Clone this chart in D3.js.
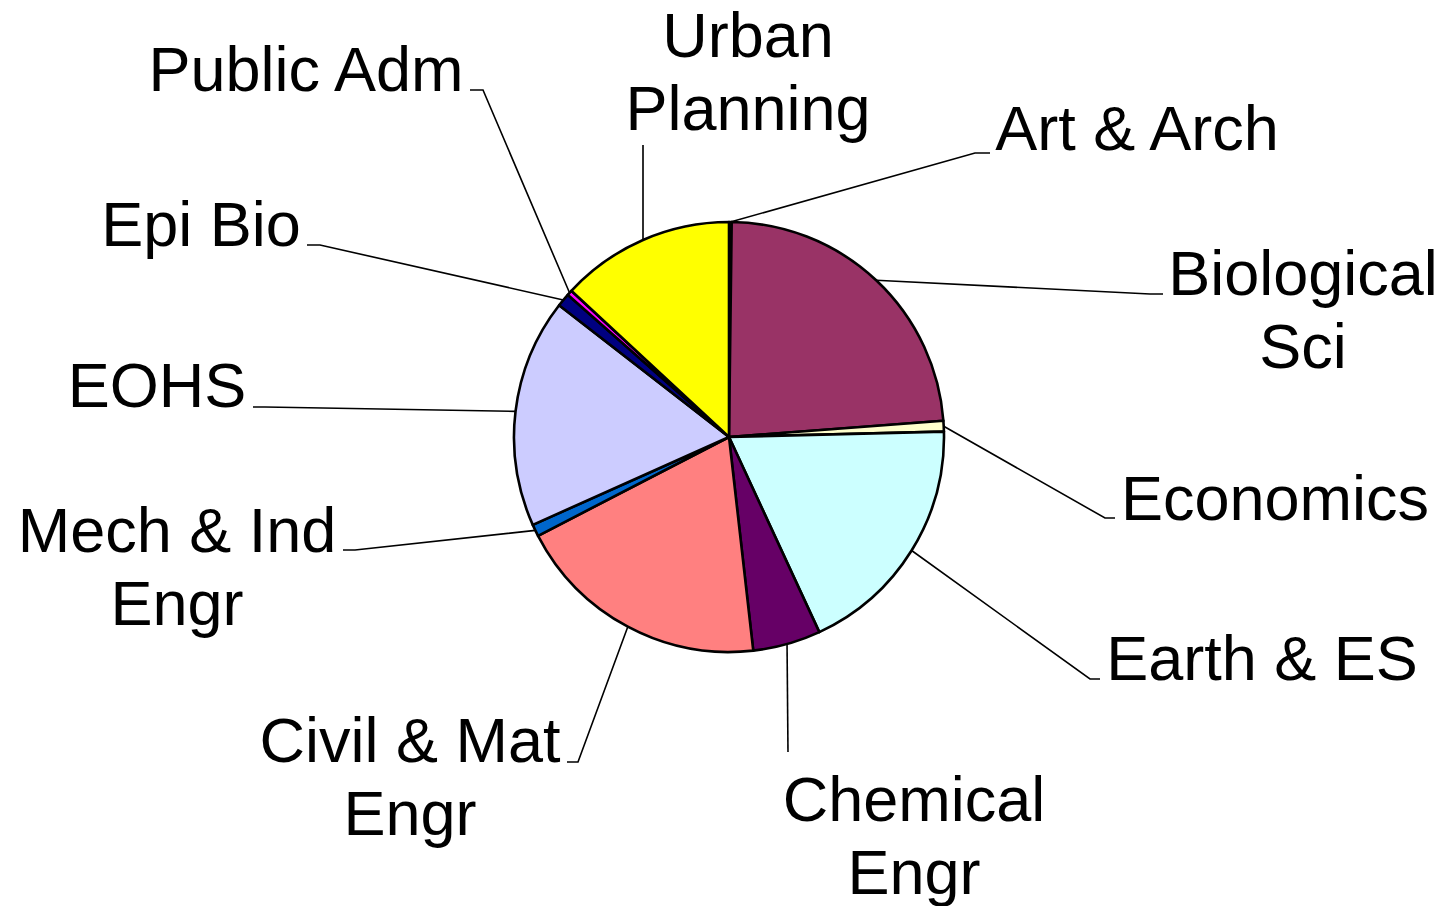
<!DOCTYPE html>
<html>
<head>
<meta charset="utf-8">
<script src="https://cdn.jsdelivr.net/npm/d3@7"></script>
<style>
  body { margin: 0; background: #fff; }
  svg { display: block; }
</style>
</head>
<body>
<svg></svg>
<script>
let width = 1449;
let height = 906;

// slices, clockwise from 12 o'clock (percent of total)
const departments = ["Art & Arch", "Biological Sci", "Economics", "Earth & ES", "Chemical Engr",
  "Civil & Mat Engr", "Mech & Ind Engr", "EOHS", "Epi Bio", "Public Adm", "Urban Planning"];
const shares = [0.2, 23.6, 0.8, 18.5, 5.1, 19.2, 0.9, 17.2, 1.0, 0.4, 13.1];
const sliceColors = ["#FFCC99", "#993366", "#FFFFCC", "#CCFFFF", "#660066",
  "#FF8080", "#0066CC", "#CCCCFF", "#000080", "#FF00FF", "#FFFF00"];
// label text, broken in lines as in the original
const labelLines = [["Art & Arch"], ["Biological", "Sci"], ["Economics"], ["Earth & ES"], ["Chemical", "Engr"],
  ["Civil & Mat", "Engr"], ["Mech & Ind", "Engr"], ["EOHS"], ["Epi Bio"], ["Public Adm"], ["Urban", "Planning"]];

// where the (dragged) labels sit: text anchor, leader elbow, leader end
const labelLayout = [
  {x: 1137, y: 150, elbow: [975, 153], end: [990, 153]},
  {x: 1303, y: 295, elbow: [1150, 294], end: [1163, 294]},
  {x: 1275, y: 520, elbow: [1105, 518], end: [1115, 518]},
  {x: 1262, y: 680, elbow: [1090, 679], end: [1100, 679]},
  {x: 914, y: 821, elbow: [788, 752], end: [788, 752]},
  {x: 410, y: 762, elbow: [578, 762], end: [567, 762]},
  {x: 177, y: 552, elbow: [355, 550], end: [343, 550]},
  {x: 157, y: 407, elbow: [265, 407], end: [253, 407]},
  {x: 201, y: 246, elbow: [320, 245], end: [307, 245]},
  {x: 306, y: 91, elbow: [483, 90], end: [470, 90]},
  {x: 748, y: 57, elbow: [643, 145], end: [643, 145]}
];

const cx = 729, cy = 437, radius = 215;
const lineHeight = 73;

const data = departments.map((d, i) => ({
  name: d,
  value: shares[i],
  color: sliceColors[i],
  lines: labelLines[i],
  layout: labelLayout[i]
}));

const pie = d3.pie()
.sort(null)
.value(d => d.value);

const arc = d3.arc()
.innerRadius(0)
.outerRadius(radius);

const arcs = pie(data);

const svg = d3.select("svg")
.attr("width", width)
.attr("height", height);

const g = svg.append("g")
.attr("transform", `translate(${cx},${cy})`);

g.selectAll("path")
.data(arcs)
.join("path")
.attr("d", arc)
.attr("fill", d => d.data.color)
.attr("stroke", "#000")
.attr("stroke-width", 2.6)
.attr("stroke-linejoin", "round");

// leader lines start on the rim at the middle of each slice
const rimPoint = d => {
  const a = (d.startAngle + d.endAngle) / 2;
  return [cx + radius * Math.sin(a), cy - radius * Math.cos(a)];
};

svg.append("g")
.selectAll("polyline")
.data(arcs)
.join("polyline")
.attr("points", d => [rimPoint(d), d.data.layout.elbow, d.data.layout.end].map(p => p.join(",")).join(" "))
.attr("fill", "none")
.attr("stroke", "#000")
.attr("stroke-width", 1.6);

const label = svg.append("g")
.selectAll("text")
.data(arcs)
.join("text")
.attr("x", d => d.data.layout.x)
.attr("y", d => d.data.layout.y)
.attr("text-anchor", "middle")
.style("font-family", "Arial, 'Liberation Sans', sans-serif")
.style("font-size", "63px")
.attr("fill", "#000");

label.selectAll("tspan")
.data(d => d.data.lines.map((t, i) => ({t, i, x: d.data.layout.x})))
.join("tspan")
.attr("x", d => d.x)
.attr("dy", d => d.i === 0 ? 0 : lineHeight)
.text(d => d.t);
</script>
</body>
</html>
